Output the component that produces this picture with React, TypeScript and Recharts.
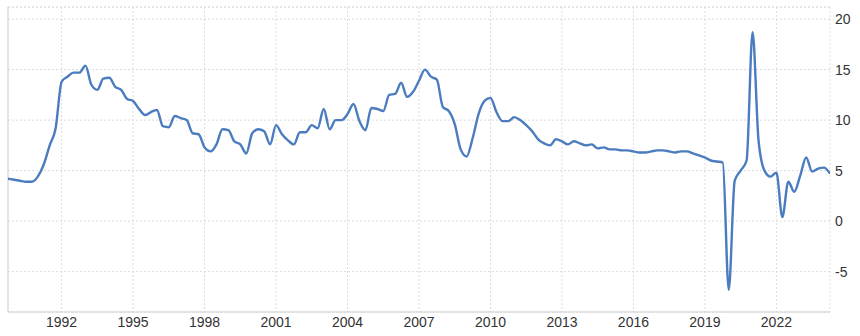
import React from "react";
import {
  LineChart,
  Line,
  XAxis,
  YAxis,
  CartesianGrid,
  ReferenceLine,
} from "recharts";

// quarterly GDP growth, year on year (%), from 1989 Q4 to 2024 Q2
const firstYear = 1989;
const firstQuarter = 4;

const growth = [
  4.2,
  4.1, 4.0, 3.9, 3.9,
  4.4, 5.6, 7.5, 9.2,
  13.8, 14.3, 14.7, 14.7,
  15.4, 13.5, 13.0, 14.1,
  14.2, 13.3, 13.0, 12.1,
  11.9, 11.1, 10.5, 10.8,
  11.0, 9.4, 9.3, 10.4,
  10.2, 10.0, 8.7, 8.6,
  7.3, 6.9, 7.6, 9.1,
  9.0, 7.9, 7.6, 6.7,
  8.7, 9.1, 8.9, 7.6,
  9.5, 8.6, 8.0, 7.6,
  8.8, 8.8, 9.5, 9.2,
  11.1, 9.1, 10.0, 10.0,
  10.6, 11.6, 9.9, 9.0,
  11.2, 11.1, 10.9, 12.5,
  12.6, 13.7, 12.3, 12.8,
  13.9, 15.0, 14.3, 14.0,
  11.3, 10.9, 9.6, 7.1,
  6.4, 8.2, 10.6, 11.9,
  12.2, 10.8, 9.9, 9.9,
  10.3, 10.0, 9.5, 8.9,
  8.1, 7.7, 7.5, 8.1,
  7.9, 7.6, 7.9, 7.7,
  7.5, 7.6, 7.2, 7.3,
  7.1, 7.1, 7.0, 7.0,
  6.9, 6.8, 6.8, 6.9,
  7.0, 7.0, 6.9, 6.8,
  6.9, 6.9, 6.7, 6.5,
  6.3, 6.0, 5.9, 5.8,
  -6.8, 4.0, 5.0, 6.0,
  18.7, 8.0, 5.0, 4.4,
  4.8, 0.4, 3.9, 2.9,
  4.5, 6.3, 4.9, 5.2,
  5.3, 4.7,
];

const yearTicks = [1992, 1995, 1998, 2001, 2004, 2007, 2010, 2013, 2016, 2019, 2022];
const valueTicks = [-5, 0, 5, 10, 15, 20];

const xMin = firstYear + (firstQuarter - 1) / 4;
const xMax = xMin + (growth.length - 1) / 4;
const yMin = -9;
const yMax = 21.2;

const chartData = growth.map((value, i) => {
  const q = firstQuarter - 1 + i;
  const year = firstYear + Math.floor(q / 4);
  return {
    quarter: `${year} Q${(q % 4) + 1}`,
    t: xMin + i / 4,
    value,
  };
});

const font = "'Liberation Sans', Arial, sans-serif";

export default function App() {
  return (
    <div style={{ position: "absolute", left: 0, top: 0, width: 860, height: 336, background: "#fff" }}>
      <LineChart
        width={860}
        height={336}
        data={chartData}
        margin={{ top: 7, right: 0, left: 8, bottom: 0 }}
      >
        <CartesianGrid stroke="#dcdcdc" strokeDasharray="2 2" />
        <ReferenceLine y={yMax} stroke="#dcdcdc" strokeDasharray="2 2" />
        <ReferenceLine x={xMin} stroke="#d4d4d4" />
        <XAxis
          type="number"
          dataKey="t"
          domain={[xMin, xMax]}
          ticks={yearTicks}
          allowDataOverflow
          height={24}
          tickSize={0}
          tickMargin={5}
          axisLine={{ stroke: "#cfcfcf" }}
          tick={{ fontSize: 14, fill: "#333", fontFamily: font }}
        />
        <YAxis
          orientation="right"
          domain={[yMin, yMax]}
          ticks={valueTicks}
          allowDataOverflow
          width={30}
          tickSize={0}
          tickMargin={5}
          axisLine={false}
          tick={{ fontSize: 14, fill: "#333", fontFamily: font }}
        />
        <Line
          type="monotone"
          dataKey="value"
          stroke="#4a7cbf"
          strokeWidth={2.4}
          dot={false}
          isAnimationActive={false}
        />
      </LineChart>
    </div>
  );
}
